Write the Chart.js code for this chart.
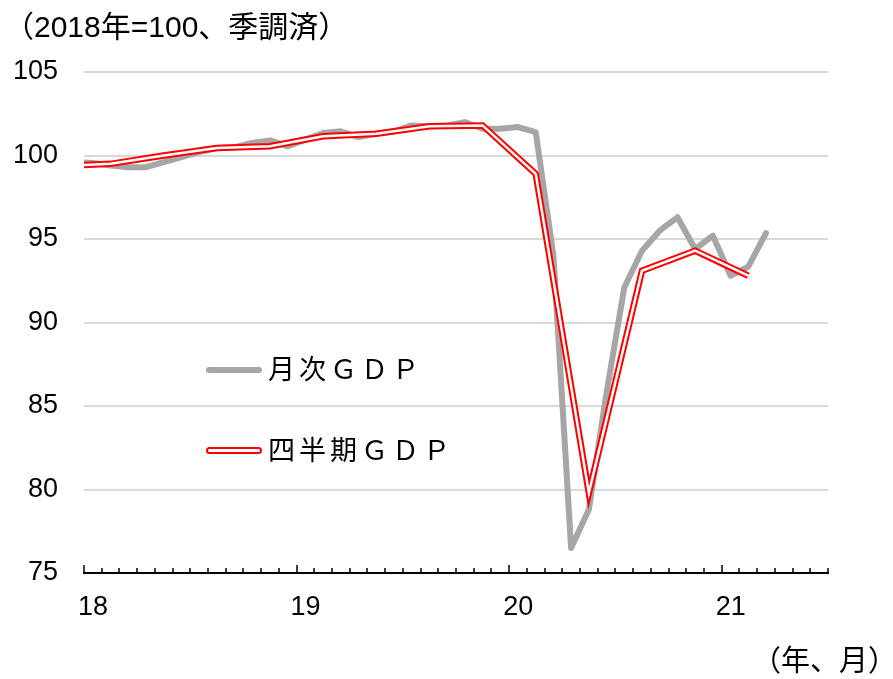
<!DOCTYPE html>
<html>
<head>
<meta charset="utf-8">
<script src="https://cdn.jsdelivr.net/npm/chart.js@4"></script>
<style>
  body { margin: 0; background: #fff; }
  #wrap { position: relative; width: 893px; height: 679px; }
  .txt { position: absolute; white-space: nowrap; color: #000; font-family: "Liberation Sans", "Noto Sans CJK JP", sans-serif; }
  .sw { position: absolute; }
</style>
</head>
<body>
<div id="wrap">
  <canvas id="c" width="893" height="679"></canvas>
  <div class="txt" style="left:4px;top:12px;font-size:30px;line-height:30px;">（2018年=100、季調済）</div>
  <div class="txt" style="left:752px;top:647px;font-size:29px;line-height:29px;">（年、月）</div>
  <div class="sw" style="left:206px;top:367px;width:56px;height:6px;background:#a6a6a6;border-radius:3px;"></div>
  <div class="txt" style="left:268px;top:356px;font-size:27px;line-height:28px;letter-spacing:4px;">月次ＧＤＰ</div>
  <div class="sw" style="left:206px;top:447px;width:52px;height:3px;border:2px solid #ff0000;border-radius:4px;background:#fff;"></div>
  <div class="txt" style="left:268px;top:437px;font-size:27px;line-height:28px;letter-spacing:4px;">四半期ＧＤＰ</div>
</div>
<script>
// 月次GDP (2018年=100)
const monthLabels = [
  '2017-12',
  '2018-01','2018-02','2018-03','2018-04','2018-05','2018-06','2018-07','2018-08','2018-09','2018-10','2018-11','2018-12',
  '2019-01','2019-02','2019-03','2019-04','2019-05','2019-06','2019-07','2019-08','2019-09','2019-10','2019-11','2019-12',
  '2020-01','2020-02','2020-03','2020-04','2020-05','2020-06','2020-07','2020-08','2020-09','2020-10','2020-11','2020-12',
  '2021-01','2021-02','2021-03'
];
const monthlyGDP = [
  99.6,
  99.55, 99.4, 99.3, 99.3, 99.6, 99.9, 100.2, 100.45, 100.5, 100.75, 100.9, 100.55,
  100.95, 101.35, 101.45, 101.1, 101.3, 101.45, 101.8, 101.75, 101.8, 102.0, 101.6, 101.6,
  101.7, 101.4, 94.0, 76.5, 78.8, 85.8, 92.1, 94.3, 95.5, 96.3, 94.4, 95.2,
  92.8, 93.35, 95.35
];

// 四半期GDP (各四半期の中央月に表示)
const quarterLabels = ['2017-11','2018-02','2018-05','2018-08','2018-11','2019-02','2019-05','2019-08','2019-11','2020-02','2020-05','2020-08','2020-11','2021-02'];
const quarterlyGDP = [99.35, 99.5, 100.0, 100.45, 100.55, 101.15, 101.3, 101.75, 101.8, 98.9, 79.8, 93.1, 94.3, 92.8];

const yTicks = [75, 80, 85, 90, 95, 100, 105];
const yearLabels = ['18', '19', '20', '21'];
const axisMonths = 42; // 2018年1月〜2021年7月

// 月ラベル -> x位置 (月の中央)
const monthPos = (s) => {
  const [y, m] = s.split('-').map(Number);
  return (y - 2018) * 12 + (m - 1) + 0.5;
};
const toPoints = (labels, vals) => labels.map((l, i) => ({ x: monthPos(l), y: vals[i] }));

const FONT = "'Liberation Sans', 'Noto Sans CJK JP', sans-serif";

const tickMarks = {
  id: 'tickMarks',
  afterDatasetsDraw(chart) {
    const xs = chart.scales.x;
    const ctx = chart.ctx;
    const bottom = chart.chartArea.bottom;
    ctx.save();
    ctx.strokeStyle = '#000';
    ctx.lineWidth = 1.5;
    for (let v = 0; v <= axisMonths; v++) {
      const px = Math.round(xs.getPixelForValue(v));
      const len = v % 12 === 0 ? 8 : 5;
      ctx.beginPath();
      ctx.moveTo(px, bottom);
      ctx.lineTo(px, bottom - len);
      ctx.stroke();
    }
    ctx.restore();
  }
};

new Chart(document.getElementById('c'), {
  type: 'line',
  data: {
    datasets: [
      {
        label: '四半期ＧＤＰ(内)',
        data: toPoints(quarterLabels, quarterlyGDP),
        borderColor: '#ffffff',
        borderWidth: 2.5,
        pointRadius: 0,
        tension: 0,
        clip: 0
      },
      {
        label: '四半期ＧＤＰ',
        data: toPoints(quarterLabels, quarterlyGDP),
        borderColor: '#ff0000',
        borderWidth: 6.5,
        pointRadius: 0,
        tension: 0,
        clip: 0
      },
      {
        label: '月次ＧＤＰ',
        data: toPoints(monthLabels, monthlyGDP),
        borderColor: '#a6a6a6',
        borderWidth: 6,
        borderCapStyle: 'round',
        borderJoinStyle: 'round',
        pointRadius: 0,
        tension: 0,
        clip: 0
      }
    ]
  },
  options: {
    responsive: false,
    animation: false,
    devicePixelRatio: 1,
    layout: { padding: { top: 72, right: 65, left: 0, bottom: 0 } },
    plugins: { legend: { display: false }, tooltip: { enabled: false } },
    scales: {
      x: {
        type: 'linear',
        min: 0,
        max: axisMonths,
        afterFit: (s) => { s.height = 106; },
        afterBuildTicks: (s) => {
          s.ticks = [];
          for (let v = 0; v <= axisMonths; v++) s.ticks.push({ value: v });
        },
        grid: { display: false, drawTicks: false },
        border: { display: true, color: '#000', width: 2 },
        ticks: {
          autoSkip: false,
          maxRotation: 0,
          padding: 18,
          labelOffset: 9,
          color: '#000',
          font: { family: FONT, size: 27 },
          callback: (v) => (v % 12 === 0 ? yearLabels[v / 12] : '')
        }
      },
      y: {
        min: 75,
        max: 105,
        afterFit: (s) => { s.width = 84; },
        afterBuildTicks: (s) => { s.ticks = yTicks.map(v => ({ value: v })); },
        grid: { color: '#d9d9d9', lineWidth: 2, drawTicks: false },
        border: { display: false },
        ticks: {
          padding: 26,
          color: '#000',
          font: { family: FONT, size: 27 }
        }
      }
    }
  },
  plugins: [tickMarks]
});
</script>
</body>
</html>
